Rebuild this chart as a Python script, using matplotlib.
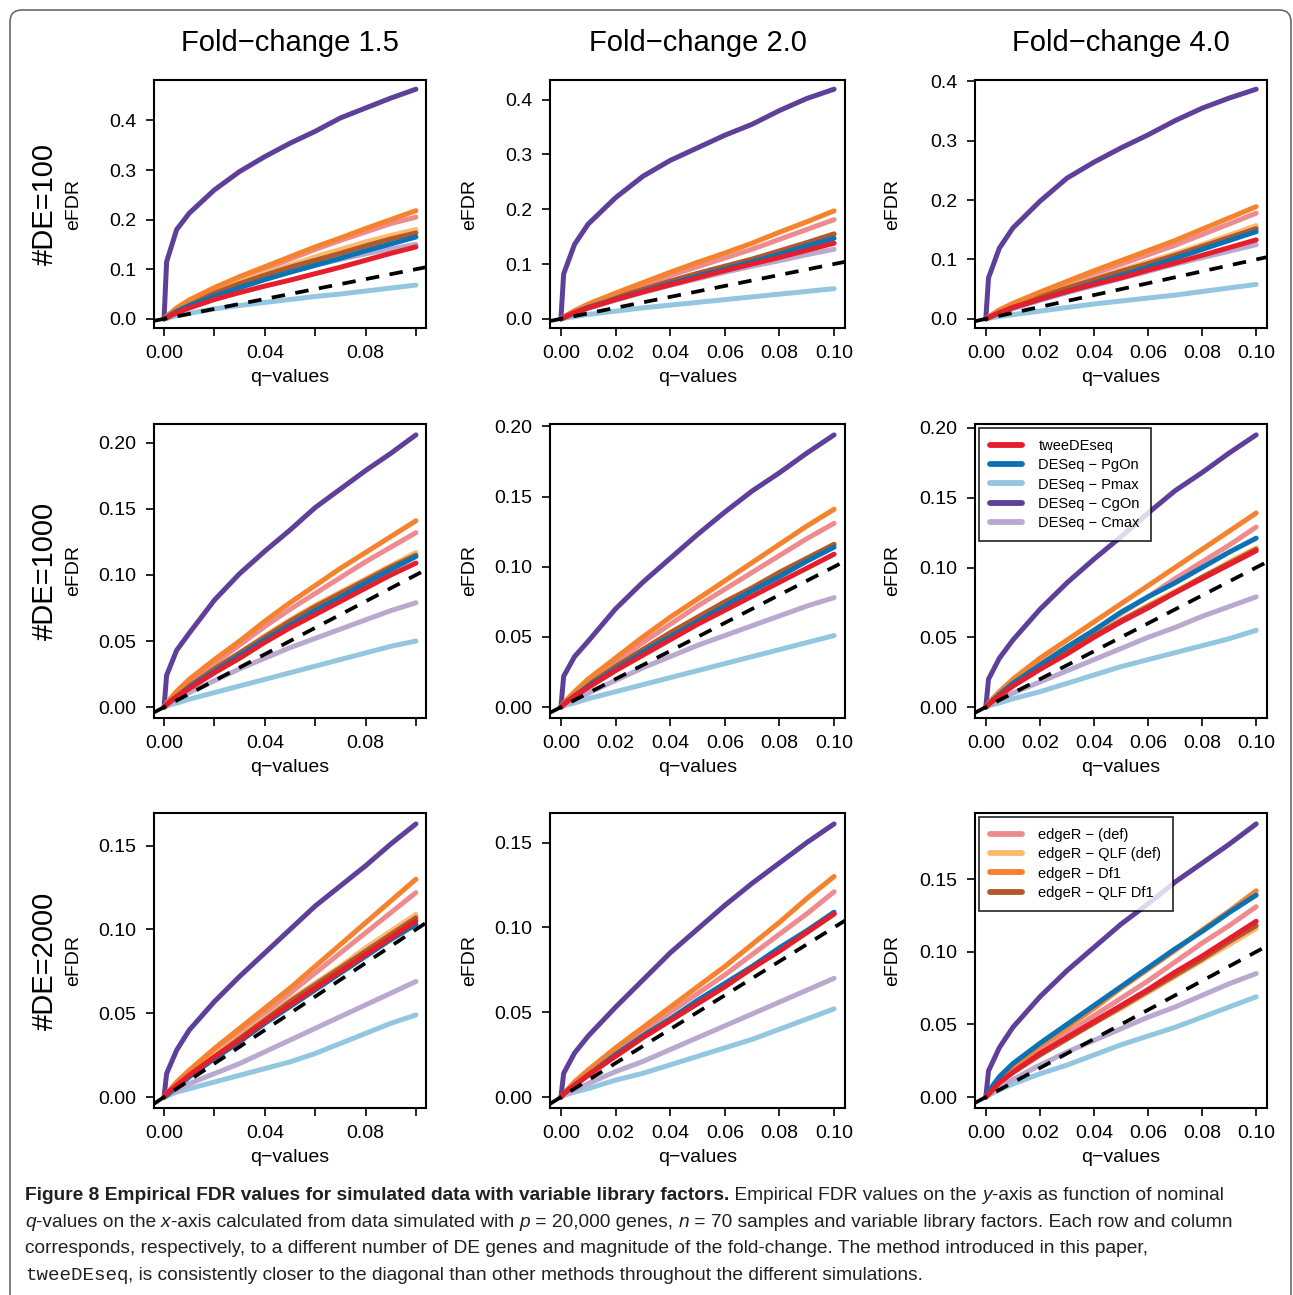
import matplotlib
matplotlib.use("Agg")
import matplotlib.pyplot as plt
from matplotlib.patches import FancyBboxPatch
from matplotlib.lines import Line2D

# ---------------- data ----------------
Q = [0, 0.001, 0.005, 0.01, 0.02, 0.03, 0.04, 0.05, 0.06, 0.07, 0.08, 0.09, 0.10]

fold_changes = ["1.5", "2.0", "4.0"]
n_de = ["100", "1000", "2000"]

method_keys = ["pmax", "cmax", "cgon", "edef", "eqlf", "eqdf", "edf1", "pgon", "twee"]
method_labels = {
    "twee": "tweeDEseq", "pgon": "DESeq \u2212 PgOn", "pmax": "DESeq \u2212 Pmax",
    "cgon": "DESeq \u2212 CgOn", "cmax": "DESeq \u2212 Cmax",
    "edef": "edgeR \u2212 (def)", "eqlf": "edgeR \u2212 QLF (def)",
    "edf1": "edgeR \u2212 Df1", "eqdf": "edgeR \u2212 QLF Df1",
}
method_colors = {
    "twee": "#E41E2B", "pgon": "#0B72B4", "pmax": "#93C6E1", "cgon": "#5E3F99",
    "cmax": "#B9A9CF", "edef": "#EE8B8E", "eqlf": "#FDB96D", "edf1": "#F5822C",
    "eqdf": "#B2592B",
}

# Row 1: #DE=100
p11_twee = [0, 0.002, 0.012, 0.022, 0.039, 0.053, 0.066, 0.078, 0.091, 0.104, 0.118, 0.132, 0.145]
p11_pgon = [0, 0.003, 0.015, 0.027, 0.046, 0.063, 0.079, 0.094, 0.108, 0.122, 0.137, 0.151, 0.165]
p11_pmax = [0, 0.001, 0.006, 0.011, 0.020, 0.027, 0.033, 0.039, 0.045, 0.050, 0.056, 0.062, 0.068]
p11_cgon = [0, 0.115, 0.180, 0.213, 0.260, 0.297, 0.327, 0.354, 0.378, 0.405, 0.425, 0.445, 0.463]
p11_cmax = [0, 0.003, 0.015, 0.027, 0.046, 0.064, 0.080, 0.094, 0.108, 0.120, 0.131, 0.141, 0.150]
p11_edef = [0, 0.004, 0.020, 0.035, 0.058, 0.080, 0.100, 0.120, 0.140, 0.158, 0.175, 0.192, 0.205]
p11_eqlf = [0, 0.004, 0.018, 0.032, 0.054, 0.074, 0.092, 0.108, 0.125, 0.140, 0.155, 0.168, 0.180]
p11_edf1 = [0, 0.005, 0.022, 0.038, 0.063, 0.085, 0.105, 0.125, 0.145, 0.163, 0.182, 0.200, 0.218]
p11_eqdf = [0, 0.004, 0.018, 0.031, 0.052, 0.071, 0.088, 0.104, 0.118, 0.132, 0.147, 0.161, 0.173]

p12_twee = [0, 0.002, 0.011, 0.020, 0.035, 0.049, 0.062, 0.075, 0.088, 0.100, 0.112, 0.125, 0.138]
p12_pgon = [0, 0.002, 0.011, 0.021, 0.036, 0.050, 0.064, 0.078, 0.091, 0.104, 0.118, 0.133, 0.147]
p12_pmax = [0, 0.001, 0.004, 0.008, 0.014, 0.020, 0.025, 0.030, 0.035, 0.040, 0.045, 0.050, 0.055]
p12_cgon = [0, 0.082, 0.136, 0.173, 0.221, 0.260, 0.289, 0.312, 0.335, 0.355, 0.380, 0.402, 0.419]
p12_cmax = [0, 0.002, 0.010, 0.019, 0.034, 0.048, 0.061, 0.073, 0.085, 0.096, 0.106, 0.117, 0.127]
p12_edef = [0, 0.003, 0.014, 0.025, 0.044, 0.062, 0.079, 0.095, 0.111, 0.127, 0.145, 0.163, 0.181]
p12_eqlf = [0, 0.003, 0.013, 0.023, 0.039, 0.054, 0.068, 0.082, 0.095, 0.108, 0.123, 0.138, 0.153]
p12_edf1 = [0, 0.003, 0.015, 0.027, 0.047, 0.066, 0.085, 0.103, 0.120, 0.138, 0.158, 0.177, 0.197]
p12_eqdf = [0, 0.003, 0.013, 0.023, 0.039, 0.054, 0.069, 0.083, 0.096, 0.109, 0.124, 0.139, 0.155]

p13_twee = [0, 0.002, 0.010, 0.019, 0.033, 0.046, 0.058, 0.069, 0.082, 0.094, 0.107, 0.120, 0.133]
p13_pgon = [0, 0.002, 0.010, 0.019, 0.033, 0.046, 0.060, 0.073, 0.087, 0.102, 0.117, 0.132, 0.147]
p13_pmax = [0, 0.001, 0.004, 0.007, 0.013, 0.019, 0.025, 0.030, 0.035, 0.040, 0.046, 0.052, 0.058]
p13_cgon = [0, 0.069, 0.119, 0.153, 0.198, 0.237, 0.264, 0.288, 0.310, 0.334, 0.355, 0.372, 0.387]
p13_cmax = [0, 0.002, 0.009, 0.017, 0.031, 0.044, 0.056, 0.068, 0.080, 0.092, 0.103, 0.114, 0.125]
p13_edef = [0, 0.003, 0.014, 0.024, 0.042, 0.059, 0.076, 0.092, 0.108, 0.124, 0.142, 0.160, 0.178]
p13_eqlf = [0, 0.002, 0.012, 0.022, 0.038, 0.053, 0.068, 0.082, 0.096, 0.110, 0.125, 0.141, 0.157]
p13_edf1 = [0, 0.003, 0.015, 0.026, 0.045, 0.063, 0.081, 0.098, 0.115, 0.132, 0.151, 0.170, 0.189]
p13_eqdf = [0, 0.002, 0.012, 0.021, 0.037, 0.052, 0.066, 0.080, 0.093, 0.107, 0.122, 0.137, 0.152]

# Row 2: #DE=1000
p21_twee = [0, 0.002, 0.008, 0.014, 0.026, 0.037, 0.049, 0.060, 0.070, 0.080, 0.090, 0.100, 0.109]
p21_pgon = [0, 0.002, 0.008, 0.015, 0.027, 0.039, 0.051, 0.062, 0.073, 0.083, 0.094, 0.104, 0.114]
p21_pmax = [0, 0.001, 0.003, 0.006, 0.011, 0.016, 0.021, 0.026, 0.031, 0.036, 0.041, 0.046, 0.050]
p21_cgon = [0, 0.024, 0.043, 0.056, 0.081, 0.101, 0.118, 0.134, 0.151, 0.165, 0.179, 0.192, 0.206]
p21_cmax = [0, 0.001, 0.006, 0.011, 0.020, 0.029, 0.037, 0.045, 0.052, 0.059, 0.066, 0.073, 0.079]
p21_edef = [0, 0.003, 0.011, 0.019, 0.033, 0.047, 0.061, 0.074, 0.086, 0.098, 0.110, 0.121, 0.132]
p21_eqlf = [0, 0.002, 0.009, 0.016, 0.029, 0.041, 0.054, 0.066, 0.077, 0.087, 0.097, 0.107, 0.117]
p21_edf1 = [0, 0.003, 0.012, 0.021, 0.036, 0.050, 0.065, 0.079, 0.092, 0.105, 0.117, 0.129, 0.141]
p21_eqdf = [0, 0.002, 0.009, 0.016, 0.029, 0.041, 0.053, 0.065, 0.076, 0.086, 0.096, 0.106, 0.115]

p22_twee = [0, 0.002, 0.008, 0.014, 0.026, 0.037, 0.048, 0.059, 0.069, 0.079, 0.089, 0.099, 0.109]
p22_pgon = [0, 0.002, 0.008, 0.015, 0.027, 0.039, 0.050, 0.061, 0.072, 0.083, 0.093, 0.104, 0.114]
p22_pmax = [0, 0.001, 0.003, 0.006, 0.011, 0.016, 0.021, 0.026, 0.031, 0.036, 0.041, 0.046, 0.051]
p22_cgon = [0, 0.022, 0.036, 0.047, 0.070, 0.089, 0.106, 0.123, 0.139, 0.154, 0.167, 0.181, 0.194]
p22_cmax = [0, 0.001, 0.005, 0.010, 0.019, 0.028, 0.036, 0.044, 0.051, 0.058, 0.065, 0.072, 0.078]
p22_edef = [0, 0.002, 0.010, 0.018, 0.032, 0.046, 0.059, 0.072, 0.084, 0.096, 0.108, 0.120, 0.131]
p22_eqlf = [0, 0.002, 0.009, 0.016, 0.029, 0.041, 0.053, 0.064, 0.075, 0.085, 0.096, 0.106, 0.116]
p22_edf1 = [0, 0.003, 0.011, 0.020, 0.035, 0.050, 0.064, 0.077, 0.090, 0.103, 0.116, 0.129, 0.141]
p22_eqdf = [0, 0.002, 0.009, 0.016, 0.029, 0.041, 0.053, 0.064, 0.075, 0.085, 0.096, 0.106, 0.116]

p23_twee = [0, 0.002, 0.008, 0.015, 0.027, 0.038, 0.050, 0.061, 0.071, 0.082, 0.092, 0.102, 0.112]
p23_pgon = [0, 0.002, 0.009, 0.017, 0.030, 0.043, 0.055, 0.068, 0.079, 0.089, 0.100, 0.111, 0.121]
p23_pmax = [0, 0.001, 0.003, 0.006, 0.011, 0.017, 0.023, 0.029, 0.034, 0.039, 0.044, 0.049, 0.055]
p23_cgon = [0, 0.020, 0.035, 0.048, 0.070, 0.089, 0.106, 0.122, 0.139, 0.155, 0.168, 0.182, 0.195]
p23_cmax = [0, 0.001, 0.005, 0.010, 0.018, 0.026, 0.034, 0.042, 0.050, 0.057, 0.065, 0.072, 0.079]
p23_edef = [0, 0.002, 0.010, 0.018, 0.031, 0.043, 0.055, 0.067, 0.079, 0.092, 0.104, 0.116, 0.129]
p23_eqlf = [0, 0.002, 0.009, 0.016, 0.028, 0.040, 0.051, 0.062, 0.073, 0.083, 0.093, 0.104, 0.114]
p23_edf1 = [0, 0.003, 0.011, 0.020, 0.035, 0.048, 0.061, 0.074, 0.087, 0.100, 0.113, 0.126, 0.139]
p23_eqdf = [0, 0.002, 0.009, 0.016, 0.028, 0.040, 0.051, 0.062, 0.072, 0.082, 0.093, 0.103, 0.113]

# Row 3: #DE=2000
p31_twee = [0, 0.002, 0.007, 0.013, 0.024, 0.034, 0.045, 0.055, 0.065, 0.075, 0.085, 0.095, 0.105]
p31_pgon = [0, 0.001, 0.006, 0.012, 0.023, 0.033, 0.044, 0.054, 0.064, 0.074, 0.084, 0.094, 0.103]
p31_pmax = [0, 0.0005, 0.003, 0.005, 0.009, 0.013, 0.017, 0.021, 0.026, 0.032, 0.038, 0.044, 0.049]
p31_cgon = [0, 0.014, 0.028, 0.040, 0.057, 0.072, 0.086, 0.100, 0.114, 0.126, 0.138, 0.151, 0.163]
p31_cmax = [0, 0.001, 0.004, 0.008, 0.014, 0.020, 0.027, 0.034, 0.041, 0.048, 0.055, 0.062, 0.069]
p31_edef = [0, 0.002, 0.008, 0.015, 0.027, 0.039, 0.050, 0.062, 0.074, 0.086, 0.098, 0.110, 0.122]
p31_eqlf = [0, 0.002, 0.007, 0.013, 0.025, 0.036, 0.047, 0.058, 0.068, 0.078, 0.089, 0.099, 0.109]
p31_edf1 = [0, 0.002, 0.009, 0.016, 0.029, 0.041, 0.053, 0.065, 0.078, 0.091, 0.104, 0.117, 0.130]
p31_eqdf = [0, 0.002, 0.007, 0.013, 0.024, 0.035, 0.046, 0.057, 0.067, 0.077, 0.087, 0.097, 0.107]

p32_twee = [0, 0.002, 0.007, 0.013, 0.024, 0.035, 0.045, 0.055, 0.065, 0.076, 0.086, 0.097, 0.108]
p32_pgon = [0, 0.002, 0.007, 0.013, 0.025, 0.036, 0.046, 0.057, 0.067, 0.077, 0.088, 0.098, 0.109]
p32_pmax = [0, 0.001, 0.003, 0.005, 0.010, 0.014, 0.019, 0.024, 0.029, 0.034, 0.040, 0.046, 0.052]
p32_cgon = [0, 0.014, 0.026, 0.036, 0.053, 0.069, 0.085, 0.099, 0.113, 0.126, 0.138, 0.150, 0.161]
p32_cmax = [0, 0.001, 0.004, 0.008, 0.015, 0.021, 0.028, 0.035, 0.042, 0.049, 0.056, 0.063, 0.070]
p32_edef = [0, 0.002, 0.008, 0.015, 0.027, 0.039, 0.050, 0.061, 0.072, 0.084, 0.096, 0.108, 0.121]
p32_eqlf = [0, 0.002, 0.007, 0.013, 0.025, 0.036, 0.046, 0.056, 0.066, 0.076, 0.087, 0.098, 0.108]
p32_edf1 = [0, 0.002, 0.009, 0.016, 0.029, 0.041, 0.053, 0.065, 0.077, 0.090, 0.103, 0.117, 0.130]
p32_eqdf = [0, 0.002, 0.007, 0.013, 0.025, 0.036, 0.046, 0.056, 0.066, 0.076, 0.087, 0.097, 0.108]

p33_twee = [0, 0.002, 0.010, 0.017, 0.030, 0.041, 0.052, 0.063, 0.074, 0.086, 0.097, 0.109, 0.121]
p33_pgon = [0, 0.004, 0.014, 0.023, 0.037, 0.050, 0.063, 0.076, 0.089, 0.102, 0.114, 0.127, 0.139]
p33_pmax = [0, 0.001, 0.005, 0.009, 0.016, 0.022, 0.029, 0.036, 0.042, 0.048, 0.055, 0.062, 0.069]
p33_cgon = [0, 0.018, 0.034, 0.048, 0.069, 0.087, 0.103, 0.119, 0.133, 0.148, 0.161, 0.174, 0.188]
p33_cmax = [0, 0.002, 0.007, 0.012, 0.022, 0.031, 0.039, 0.047, 0.055, 0.062, 0.070, 0.078, 0.085]
p33_edef = [0, 0.003, 0.011, 0.019, 0.032, 0.044, 0.056, 0.068, 0.080, 0.093, 0.106, 0.118, 0.131]
p33_eqlf = [0, 0.002, 0.010, 0.017, 0.029, 0.040, 0.051, 0.061, 0.072, 0.083, 0.094, 0.105, 0.116]
p33_edf1 = [0, 0.003, 0.012, 0.021, 0.035, 0.048, 0.061, 0.075, 0.088, 0.101, 0.115, 0.128, 0.142]
p33_eqdf = [0, 0.002, 0.010, 0.017, 0.029, 0.040, 0.051, 0.062, 0.073, 0.084, 0.095, 0.107, 0.118]

_g = globals()
panels = [[{k: _g["p%d%d_%s" % (r + 1, c + 1, k)] for k in method_keys} for c in range(3)]
          for r in range(3)]

legend_sets = {(1, 2): ["twee", "pgon", "pmax", "cgon", "cmax"],
               (2, 2): ["edef", "eqlf", "edf1", "eqdf"]}

# ---------------- layout ----------------
W, H = 1293, 1295
plt.rcParams["font.family"] = ["Liberation Sans", "DejaVu Sans"]
fig = plt.figure(figsize=(W / 100, H / 100), dpi=100)

col_lr = [(154, 426), (550, 845), (975, 1267)]
row_tb = [(80, 328), (424, 718), (813, 1108)]
efdr_x = [74, 470, 893]


def fx(px):
    return px / W


def fy(py):
    return 1 - py / H


# figure frame
frame = FancyBboxPatch((10, -30), 1281, 1295 - 10 + 30,
                       boxstyle="round,pad=0,rounding_size=12",
                       transform=None, fill=False, edgecolor="#6a6a6a", lw=1.2)
fig.patches.append(frame)

xt = [0, 0.02, 0.04, 0.06, 0.08, 0.10]

for r in range(3):
    t, b = row_tb[r]
    for c in range(3):
        l, rr = col_lr[c]
        ax = fig.add_axes([fx(l), fy(b), (rr - l) / W, (b - t) / H])
        data = panels[r][c]
        for k in method_keys:
            ax.plot(Q, data[k], color=method_colors[k], lw=3.6,
                    solid_capstyle="round", solid_joinstyle="round", zorder=2)
        ax.axline((0, 0), slope=1, color="black", lw=2.7,
                  ls=(0, (3.6, 2.8)), dash_capstyle="butt", zorder=3)
        ymax = max(max(v) for v in data.values())
        ax.set_xlim(-0.004, 0.104)
        ax.set_ylim(-0.04 * ymax, 1.04 * ymax)
        ax.set_xticks(xt)
        if c == 0:
            ax.set_xticklabels(["%.2f" % v if i % 2 == 0 else "" for i, v in enumerate(xt)])
        else:
            ax.set_xticklabels(["%.2f" % v for v in xt])
        if r == 0:
            yt = [0, 0.1, 0.2, 0.3, 0.4]
            ax.set_yticks(yt)
            ax.set_yticklabels(["%.1f" % v for v in yt])
        else:
            step = 0.05
            yt = [i * step for i in range(10) if i * step <= 1.04 * ymax + 1e-9]
            ax.set_yticks(yt)
            ax.set_yticklabels(["%.2f" % v for v in yt])
        ax.tick_params(direction="out", length=5.6, width=1.2, labelsize=14,
                       top=False, right=False)
        ax.tick_params(axis="x", pad=6.5)
        ax.tick_params(axis="y", pad=7)
        for s in ax.spines.values():
            s.set_linewidth(1.5)
        fig.text(fx(efdr_x[c]), fy((t + b) / 2), "eFDR", rotation=90,
                 ha="center", va="center", fontsize=14)
        fig.text(fx((l + rr) / 2), fy(b + 50), "q\u2212values",
                 ha="center", va="center", fontsize=14)
        if (r, c) in legend_sets:
            keys = legend_sets[(r, c)]
            handles = [Line2D([], [], color=method_colors[k], lw=4.2,
                              solid_capstyle="round") for k in keys]
            leg = ax.legend(handles, [method_labels[k] for k in keys],
                            loc="upper left", bbox_to_anchor=(0, 1),
                            fontsize=10.5, frameon=True, fancybox=False,
                            handlelength=2.2, handletextpad=1.1,
                            labelspacing=0.35, borderpad=0.8,
                            borderaxespad=0.25)
            leg.get_frame().set_edgecolor("black")
            leg.get_frame().set_linewidth(1.3)
            leg.set_zorder(5)
        if r == 0:
            fig.text(fx((l + rr) / 2), fy(43), "Fold\u2212change " + fold_changes[c],
                     ha="center", va="center", fontsize=21)
    fig.text(fx(45), fy((t + b) / 2), "#DE=" + n_de[r], rotation=90,
             ha="center", va="center", fontsize=21)

# ---------------- caption ----------------
cap_family = ["Liberation Sans Narrow", "Liberation Sans", "DejaVu Sans"]
reg = dict(family=cap_family)
bold = dict(family=cap_family, weight="bold")
ital = dict(family=cap_family, style="italic")
mono = dict(family=["Liberation Mono", "DejaVu Sans Mono"])

cap_lines = [
    [("Figure 8 Empirical FDR values for simulated data with variable library factors.", bold),
     (" Empirical FDR values on the ", reg), ("y", ital), ("-axis as function of nominal", reg)],
    [("q", ital), ("-values on the ", reg), ("x", ital),
     ("-axis calculated from data simulated with ", reg), ("p", ital),
     (" = 20,000 genes, ", reg), ("n", ital),
     (" = 70 samples and variable library factors. Each row and column", reg)],
    [("corresponds, respectively, to a different number of DE genes and magnitude of the "
      "fold-change. The method introduced in this paper,", reg)],
    [("tweeDEseq", mono),
     (", is consistently closer to the diagonal than other methods throughout the different simulations.", reg)],
]
cap_baselines = [1200, 1227, 1253, 1280]

renderer = fig.canvas.get_renderer()


def seg_width(text, props, size):
    tt = fig.text(0, 0, "x" + text + "x", fontsize=size, **props)
    w1 = tt.get_window_extent(renderer).width
    tt.set_text("xx")
    w2 = tt.get_window_extent(renderer).width
    tt.remove()
    return w1 - w2


base = 10.0
w_line2 = sum(seg_width(s, p, base) for s, p in cap_lines[1])
cap_size = base * 1217.0 / w_line2

for segs, yb in zip(cap_lines, cap_baselines):
    x = 25.0
    for s, p in segs:
        fig.text(fx(x), fy(yb), s, fontsize=cap_size, ha="left", va="baseline",
                 color="#231f20", **p)
        x += seg_width(s, p, cap_size)

fig.savefig("out.png", dpi=100)
